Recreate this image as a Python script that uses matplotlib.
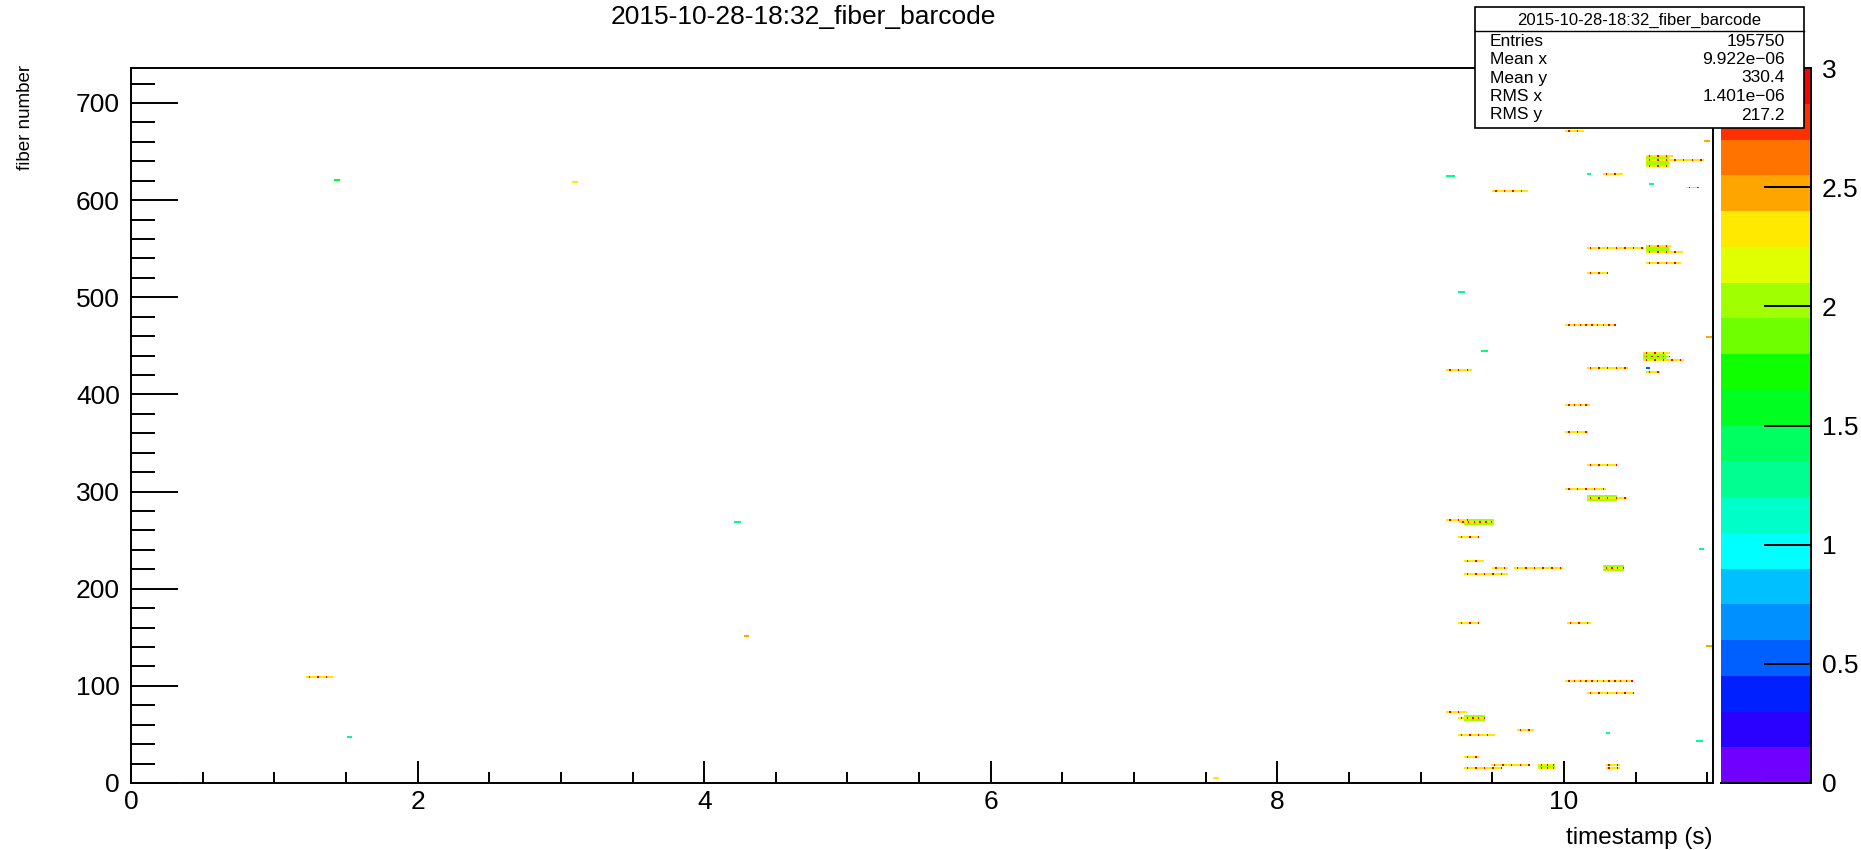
import numpy as np
import matplotlib
matplotlib.use("Agg")
import matplotlib.pyplot as plt
from matplotlib import font_manager
from matplotlib.colors import ListedColormap, BoundaryNorm
from matplotlib.patches import Rectangle
from matplotlib.lines import Line2D
from matplotlib.ticker import MultipleLocator, FormatStrFormatter

TITLE = "2015-10-28-18:32_fiber_barcode"

# histogram range / binning
t_max = 11.04
fiber_max = 736
t_bin = 0.01
fiber_bin = 2

# runs of filled cells along one fiber: start time, end time, fiber, count, spacing of count-3 cells
seg_t0 = [1.42, 3.08, 4.22, 4.28, 1.51, 1.22, 7.55, 9.19,
          10.02, 10.98, 10.57, 10.57, 10.57, 10.16, 10.27, 9.50, 10.59, 10.85,
          10.16, 10.57, 10.57, 10.57, 10.16, 9.26, 10.02, 10.99, 9.42,
          10.55, 10.55, 10.55, 10.57, 10.57, 9.18, 10.16, 10.02, 10.02,
          10.16, 10.02, 10.16, 9.18, 9.28, 9.26, 10.94, 9.30, 9.30, 9.50,
          9.65, 10.27, 9.26, 10.03, 10.99, 10.02, 10.16, 9.18, 9.27, 9.67,
          10.29, 9.26, 10.92, 9.30, 9.49, 9.82, 9.82, 10.29, 10.29, 9.30]
seg_t1 = [1.45, 3.11, 4.26, 4.31, 1.53, 1.40, 7.58, 9.23,
          10.13, 11.01, 10.75, 10.97, 10.72, 10.19, 10.40, 9.74, 10.62, 10.93,
          10.55, 10.74, 10.82, 10.81, 10.30, 9.30, 10.35, 11.02, 9.46,
          10.73, 10.73, 10.83, 10.59, 10.66, 9.36, 10.44, 10.17, 10.16,
          10.36, 10.28, 10.43, 9.33, 9.50, 9.40, 10.97, 9.43, 9.61, 9.61,
          9.98, 10.41, 9.40, 10.18, 11.02, 10.47, 10.48, 9.31, 9.45, 9.79,
          10.31, 9.51, 10.96, 9.40, 9.75, 9.94, 9.94, 10.38, 10.38, 9.56]
seg_fiber = [620, 618, 269, 150, 46, 108, 5, 624,
             670, 661, 645, 641, 635, 627, 627, 609, 617, 612,
             551, 553, 547, 534, 525, 504, 471, 459, 444,
             442, 439, 435, 427, 422, 425, 427, 389, 361,
             326, 302, 293, 271, 268, 252, 240, 228, 215, 220,
             220, 220, 164, 164, 141, 104, 93, 72, 67, 55,
             50, 48, 42, 26, 19, 19, 15, 19, 14, 14]
seg_count = [1.6, 2.35, 1.2, 2.5, 1.2, 2.35, 2.35, 1.2,
             2.35, 2.5, 2.35, 2.35, 2.35, 1.2, 2.35, 2.35, 1.2, 2.35,
             2.35, 2.35, 2.35, 2.35, 2.35, 1.2, 2.35, 2.5, 1.2,
             2.35, 2.0, 2.35, 0.5, 2.35, 2.35, 2.35, 2.35, 2.35,
             2.35, 2.35, 2.35, 2.35, 2.35, 2.35, 1.2, 2.35, 2.35, 2.35,
             2.35, 2.35, 2.35, 2.35, 2.5, 2.35, 2.35, 2.35, 2.35, 2.35,
             1.2, 2.35, 1.2, 2.35, 2.35, 2.35, 2.35, 2.35, 2.35, 2.35]
seg_dots = [0, 0, 0, 0, 0, 6, 0, 0,
            6, 0, 6, 6, 6, 0, 6, 6, 0, 6,
            6, 6, 6, 6, 6, 0, 4, 0, 0,
            6, 4, 6, 0, 6, 6, 6, 4, 6,
            6, 6, 6, 6, 4, 6, 0, 6, 6, 6,
            6, 4, 6, 6, 0, 4, 6, 6, 4, 6,
            0, 6, 0, 6, 6, 4, 4, 6, 6, 6]

# patches spanning several fibers (green, ~2 counts)
blob_t0 = [10.57, 10.57, 10.55, 9.30, 9.82, 10.27, 9.30, 10.16]
blob_t1 = [10.72, 10.72, 10.70, 9.45, 9.94, 10.41, 9.50, 10.36]
blob_f0 = [637, 547, 436, 65, 15, 218, 266, 291]
blob_f1 = [645, 552, 442, 69, 19, 222, 270, 295]
blob_count = [2.0, 2.0, 2.0, 2.0, 2.0, 2.0, 2.0, 2.0]

# z palette, 20 contour levels from 0 to 3
z_levels = np.linspace(0, 3, 21)
palette = ["#7000ff", "#2a00ff", "#0020ff", "#0060ff", "#0090ff", "#00c0ff", "#00ffff",
           "#00ffc8", "#00ff90", "#00ff60", "#00ff20", "#10ff00", "#70ff00", "#a0ff00",
           "#e0ff00", "#ffe900", "#ffa500", "#ff7300", "#ff3000", "#ff0000"]

stats_names = ["Entries", "Mean x", "Mean y", "RMS x", "RMS y"]
stats_values = ["195750", "9.922e\u221206", "330.4", "1.401e\u221206", "217.2"]

W, H = 1861, 850


def fx(px):
    return px / W


def fy(py):
    return 1 - py / H


names = {f.name for f in font_manager.fontManager.ttflist}
main_font = "Liberation Sans Narrow" if "Liberation Sans Narrow" in names else "Liberation Sans"
plt.rcParams['font.family'] = [main_font, 'DejaVu Sans']

# build the 2D histogram
nt = int(round(t_max / t_bin))
nf = fiber_max // fiber_bin
counts = np.zeros((nf, nt))
t_edges = np.linspace(0, t_max, nt + 1)
f_edges = np.arange(0, fiber_max + fiber_bin, fiber_bin)

for t0, t1, f0, f1, c in zip(blob_t0, blob_t1, blob_f0, blob_f1, blob_count):
    i0, i1 = int(t0 / t_bin), int(t1 / t_bin)
    j0, j1 = int(f0 / fiber_bin), int(f1 / fiber_bin)
    counts[j0:j1 + 1, i0:i1 + 1] = c

for t0, t1, f, c, step in zip(seg_t0, seg_t1, seg_fiber, seg_count, seg_dots):
    i0, i1 = int(t0 / t_bin), max(int(t1 / t_bin), int(t0 / t_bin) + 1)
    j = int(f / fiber_bin)
    counts[j, i0:i1 + 1] = np.maximum(counts[j, i0:i1 + 1], c) if c < 2 else c
    if step:
        counts[j, i0 + 2:i1 + 1:step] = 3.0

cmap = ListedColormap(palette)
norm = BoundaryNorm(z_levels, cmap.N)

fig = plt.figure(figsize=(W / 100, H / 100), dpi=100)
ax_l, ax_r, ax_t, ax_b = 131, 1713, 68, 783
ax = fig.add_axes([fx(ax_l), fy(ax_b), fx(ax_r - ax_l), (ax_b - ax_t) / H])
ax.pcolormesh(t_edges, f_edges, np.ma.masked_equal(counts, 0), cmap=cmap, norm=norm,
              rasterized=True)
ax.set_xlim(0, t_max)
ax.set_ylim(0, fiber_max)

ax.xaxis.set_major_locator(MultipleLocator(2))
ax.xaxis.set_minor_locator(MultipleLocator(0.5))
ax.yaxis.set_major_locator(MultipleLocator(100))
ax.yaxis.set_minor_locator(MultipleLocator(20))
ax.xaxis.set_major_formatter(FormatStrFormatter('%g'))
ax.yaxis.set_major_formatter(FormatStrFormatter('%g'))
ax.tick_params(axis='x', which='major', direction='in', length=16, width=1.4, pad=5,
               labelsize=19, top=False)
ax.tick_params(axis='x', which='minor', direction='in', length=8, width=1.4, top=False)
ax.tick_params(axis='y', which='major', direction='in', length=34, width=1.4, pad=8,
               labelsize=19, right=False)
ax.tick_params(axis='y', which='minor', direction='in', length=17, width=1.4, right=False)
for sp in ax.spines.values():
    sp.set_linewidth(1.4)

fig.text(fx(26), fy(65), "fiber number", rotation=90, ha='center', va='top', fontsize=13.5)
fig.text(fx(ax_r), fy(849), "timestamp (s)", ha='right', va='bottom', fontsize=17.5)
fig.text(fx(803), fy(17), TITLE, ha='center', va='center', fontsize=19)

# palette axis
cax = fig.add_axes([fx(1721), fy(ax_b), fx(1811 - 1721), (ax_b - ax_t) / H])
cax.pcolormesh([0, 1], z_levels, (z_levels[:-1] + 0.075).reshape(-1, 1), cmap=cmap, norm=norm)
cax.set_xlim(0, 1)
cax.set_ylim(0, 3)
cax.set_xticks([])
cax.yaxis.tick_right()
cax.yaxis.set_major_locator(MultipleLocator(0.5))
cax.yaxis.set_major_formatter(FormatStrFormatter('%g'))
cax.tick_params(axis='y', direction='in', length=34, width=1.4, pad=8, labelsize=19,
                left=False)
for name, sp in cax.spines.items():
    sp.set_visible(name in ('right', 'bottom'))
    sp.set_linewidth(1.4)

# stats box
bx0, bx1, by0, by1, hdr = 1475, 1804, 7, 128, 31
fig.add_artist(Rectangle((fx(bx0), fy(by1)), fx(bx1 - bx0), (by1 - by0) / H,
                         transform=fig.transFigure, facecolor='white', edgecolor='black',
                         linewidth=1.2, zorder=5))
fig.add_artist(Line2D([fx(bx0), fx(bx1)], [fy(hdr), fy(hdr)], transform=fig.transFigure,
                      color='black', linewidth=1.0, zorder=6))
fig.text(fx((bx0 + bx1) / 2), fy((by0 + hdr) / 2 + 1), TITLE, ha='center', va='center',
         fontsize=12, zorder=7)
row_y = np.linspace(41, 115, len(stats_names))
for yy, nm, val in zip(row_y, stats_names, stats_values):
    fig.text(fx(1490), fy(yy), nm, ha='left', va='center', fontsize=12.5, zorder=7)
    fig.text(fx(1785), fy(yy), val, ha='right', va='center', fontsize=12.5, zorder=7)

fig.savefig("out.png", dpi=100, facecolor='white')
